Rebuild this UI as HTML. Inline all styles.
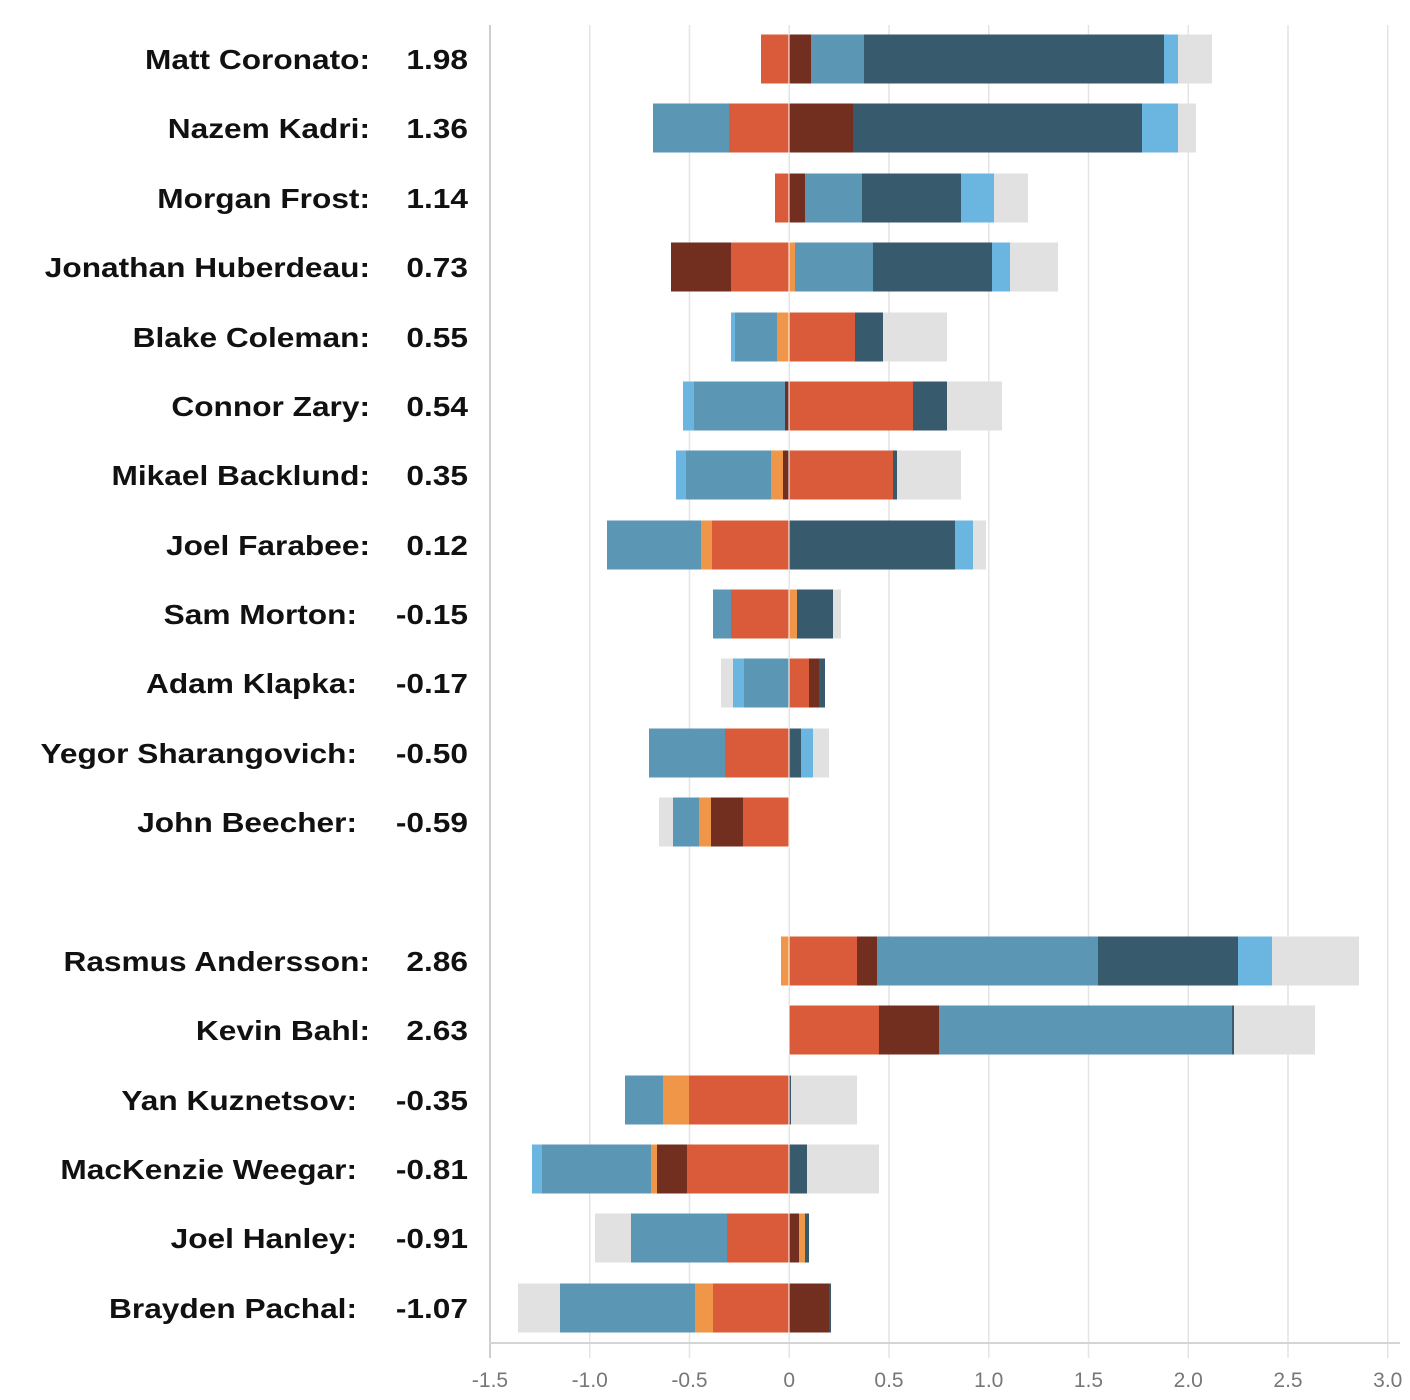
<!DOCTYPE html>
<html><head><meta charset="utf-8"><style>
body{margin:0;background:#fff;}
svg{display:block;font-family:"Liberation Sans",Arial,sans-serif;}
</style></head><body>
<svg id="s" width="1410" height="1400" xmlns="http://www.w3.org/2000/svg">
<g id="grid"></g><g id="bars"></g><g id="labels"></g>
</svg>
<script>
const C={g:"#e1e1e1",r:"#d95b39",b:"#722f20",s:"#5b96b5",d:"#385a6d",l:"#6bb6e0",o:"#ef9648"};
const rows=[
["Matt Coronato:","1.98",59,370,[["r",761,789],["b",789,811],["s",811,864],["d",864,1164],["l",1164,1178],["g",1178,1212]]],
["Nazem Kadri:","1.36",128,370,[["s",653,729],["r",729,789],["b",789,853],["d",853,1142],["l",1142,1178],["g",1178,1196]]],
["Morgan Frost:","1.14",198,370,[["r",775,789],["b",789,805],["s",805,862],["d",862,961],["l",961,994],["g",994,1028]]],
["Jonathan Huberdeau:","0.73",267,370,[["b",671,731],["r",731,789],["o",789,795],["s",795,873],["d",873,992],["l",992,1010],["g",1010,1058]]],
["Blake Coleman:","0.55",337,370,[["l",731,735],["s",735,777],["o",777,789],["r",789,855],["d",855,883],["g",883,947]]],
["Connor Zary:","0.54",406,370,[["l",683,694],["s",694,785],["b",785,789],["r",789,913],["d",913,947],["g",947,1002]]],
["Mikael Backlund:","0.35",475,370,[["l",676,686],["s",686,771],["o",771,783],["b",783,789],["r",789,893],["d",893,897],["g",897,961]]],
["Joel Farabee:","0.12",545,370,[["s",607,701],["o",701,712],["r",712,789],["d",789,955],["l",955,973],["g",973,986]]],
["Sam Morton:","-0.15",614,357,[["s",713,731],["r",731,789],["o",789,797],["d",797,833],["g",833,841]]],
["Adam Klapka:","-0.17",683,357,[["g",721,733],["l",733,744],["s",744,789],["r",789,809],["b",809,819],["d",819,825]]],
["Yegor Sharangovich:","-0.50",753,357,[["s",649,725],["r",725,789],["d",789,801],["l",801,813],["g",813,829]]],
["John Beecher:","-0.59",822,357,[["g",659,673],["s",673,699],["o",699,711],["b",711,743],["r",743,789]]],
["Rasmus Andersson:","2.86",961,370,[["o",781,789],["r",789,857],["b",857,877],["s",877,1098],["d",1098,1238],["l",1238,1272],["g",1272,1359]]],
["Kevin Bahl:","2.63",1030,370,[["r",789,879],["b",879,939],["s",939,1232],["d",1232,1234],["g",1234,1315]]],
["Yan Kuznetsov:","-0.35",1100,357,[["s",625,663],["o",663,689],["r",689,789],["d",789,791],["g",791,857]]],
["MacKenzie Weegar:","-0.81",1169,357,[["l",532,542],["s",542,651],["o",651,657],["b",657,687],["r",687,789],["d",789,807],["g",807,879]]],
["Joel Hanley:","-0.91",1238,357,[["g",595,631],["s",631,727],["r",727,789],["b",789,799],["o",799,805],["d",805,809]]],
["Brayden Pachal:","-1.07",1308,357,[["g",518,560],["s",560,695],["o",695,713],["r",713,789],["b",789,829],["d",829,831]]]
];
const NS="http://www.w3.org/2000/svg";
function el(p,t,a,txt){const e=document.createElementNS(NS,t);for(const k in a)e.setAttribute(k,a[k]);if(txt!=null)e.textContent=txt;document.getElementById(p).appendChild(e);return e;}
const ticks=["-1.5","-1.0","-0.5","0","0.5","1.0","1.5","2.0","2.5","3.0"];
ticks.forEach((t,i)=>{const x=490+i*99.75;
el("grid","line",{x1:x,x2:x,y1:25,y2:1358,stroke:i==0?"#cfcfcf":"#e4e4e4","stroke-width":i==0?2:1.5});
el("grid","text",{x:x,y:1387,"text-anchor":"middle","font-size":21,fill:"#777"},t);});
el("grid","line",{x1:489,x2:1400,y1:1343,y2:1343,stroke:"#d4d4d4","stroke-width":2});
function wide(e){const w=e.getComputedTextLength();e.setAttribute("textLength",w*1.13);e.setAttribute("lengthAdjust","spacingAndGlyphs");}
rows.forEach(r=>{const[n,v,y,nx,segs]=r;
segs.forEach(s=>el("bars","rect",{x:s[1],y:y-24.5,width:s[2]-s[1],height:49,fill:C[s[0]]}));
el("bars","line",{x1:789,x2:789,y1:y-25,y2:y+25,stroke:"#fff","stroke-width":1});
wide(el("labels","text",{x:nx,y:y+10,"text-anchor":"end","font-size":28,"font-weight":"bold",fill:"#111"},n));
wide(el("labels","text",{x:468,y:y+10,"text-anchor":"end","font-size":28,"font-weight":"bold",fill:"#111"},v));});
</script>
</body></html>
